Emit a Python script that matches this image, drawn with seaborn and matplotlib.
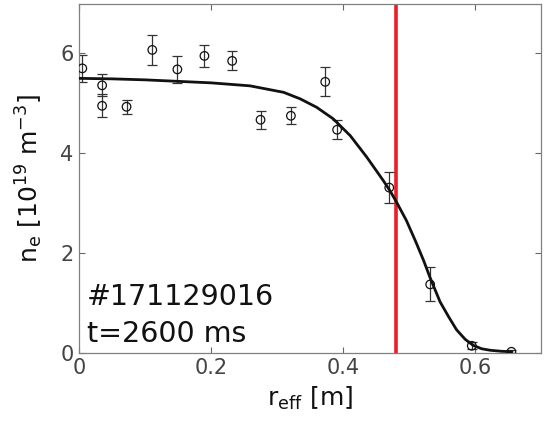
import numpy as np
import pandas as pd
import seaborn as sns
from matplotlib import pyplot as plt

# measured density points
r_meas = [0.005, 0.035, 0.035, 0.072, 0.111, 0.149, 0.190, 0.232,
          0.275, 0.321, 0.373, 0.391, 0.470, 0.532, 0.595, 0.655]
ne_meas = [5.70, 5.36, 4.95, 4.93, 6.07, 5.68, 5.95, 5.85,
           4.67, 4.75, 5.43, 4.47, 3.31, 1.37, 0.14, 0.02]
ne_err = [0.27, 0.22, 0.23, 0.14, 0.30, 0.27, 0.22, 0.19,
          0.18, 0.17, 0.29, 0.19, 0.31, 0.34, 0.07, 0.03]

# fitted profile
r_fit = [0.00, 0.05, 0.10, 0.15, 0.20, 0.259, 0.31, 0.335, 0.36, 0.385,
         0.411, 0.436, 0.461, 0.471, 0.481, 0.496, 0.51, 0.522, 0.532,
         0.547, 0.56, 0.572, 0.585, 0.597, 0.61, 0.623, 0.64, 0.656]
ne_fit = [5.50, 5.49, 5.47, 5.44, 5.41, 5.35, 5.22, 5.09, 4.92, 4.69,
          4.35, 3.92, 3.45, 3.25, 3.02, 2.65, 2.23, 1.85, 1.50,
          1.02, 0.72, 0.46, 0.27, 0.15, 0.08, 0.05, 0.03, 0.02]

r_sep = 0.48
shot_label = '#171129016'
time_label = 't=2600 ms'


def main():
    sns.set_theme(style='white')
    plt.rcParams['font.family'] = ['DejaVu Sans']

    meas = pd.DataFrame({'r': r_meas, 'ne': ne_meas, 'err': ne_err})
    fit = pd.DataFrame({'r': r_fit, 'ne': ne_fit})

    fig = plt.figure(figsize=(5.46, 4.24), dpi=100)
    ax = fig.add_axes([0.1447, 0.168, 0.8463, 0.8237])

    ax.axvline(r_sep, color='#ee1c25', lw=2.6, zorder=1)
    ax.errorbar(meas['r'], meas['ne'], yerr=meas['err'], fmt='none',
                ecolor='#333333', elinewidth=0.9, capsize=3.5, capthick=0.9, zorder=2)
    sns.lineplot(data=fit, x='r', y='ne', color='#111111', lw=2.0, ax=ax, zorder=3)
    sns.scatterplot(data=meas, x='r', y='ne', marker='o', s=38, facecolors='none',
                    edgecolor='#111111', linewidth=0.9, ax=ax, zorder=4)

    ax.text(0.012, 0.95, shot_label, fontsize=20.5, color='#111111', va='baseline')
    ax.text(0.012, 0.22, time_label, fontsize=20.5, color='#111111', va='baseline')

    ax.set_xlim(0, 0.7)
    ax.set_ylim(0, 7)
    ax.set_xticks([0, 0.2, 0.4, 0.6])
    ax.set_xticklabels(['0', '0.2', '0.4', '0.6'])
    ax.set_yticks([0, 2, 4, 6])
    ax.tick_params(direction='in', length=4, width=0.8, color='#666666',
                   labelsize=15, labelcolor='#444444', top=True, right=True,
                   bottom=True, left=True, pad=4)
    for s in ax.spines.values():
        s.set_color('#808080')
        s.set_linewidth(0.9)

    ax.set_xlabel(r'r$_{\mathrm{eff}}$ [m]', fontsize=18, color='#111111', labelpad=5)
    ax.set_ylabel(r'n$_{\mathrm{e}}$ [10$^{19}$ m$^{-3}$]', fontsize=18,
                  color='#111111', labelpad=11)

    fig.savefig('out.png', dpi=100)


if __name__ == '__main__':
    main()
